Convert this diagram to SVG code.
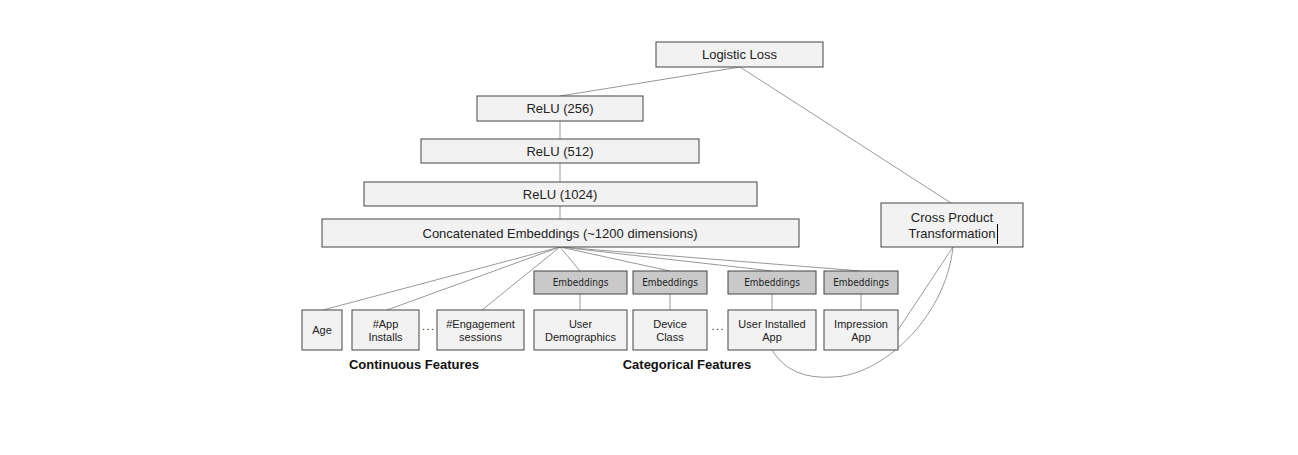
<svg xmlns="http://www.w3.org/2000/svg" width="1298" height="455" viewBox="0 0 1298 455">
<style>
.box{fill:#f2f2f2;stroke:#444;stroke-width:1}
.emb{fill:#c9c9c9;stroke:#444;stroke-width:1}
.t{font-family:"Liberation Sans",Arial,sans-serif;font-size:13px;fill:#222;text-anchor:middle}
.f{font-family:"Liberation Sans",Arial,sans-serif;font-size:11px;fill:#222;text-anchor:middle}
.e{font-family:"Liberation Sans Narrow","DejaVu Sans Condensed","Liberation Sans",sans-serif;font-size:10px;fill:#222;text-anchor:middle}
.b{font-family:"Liberation Sans",Arial,sans-serif;font-size:13px;font-weight:bold;fill:#111;text-anchor:middle}
.d{font-family:"Liberation Sans",Arial,sans-serif;font-size:11px;fill:#222;letter-spacing:1.5px}
.c{stroke:#999;stroke-width:1;fill:none}
</style>
<rect width="1298" height="455" fill="#fff"/>
<g id="connectors">
<line class="c" x1="740" y1="67" x2="560" y2="96"/>
<line class="c" x1="740" y1="67" x2="951" y2="203"/>
<line class="c" x1="560" y1="121" x2="560" y2="139"/>
<line class="c" x1="560" y1="163" x2="560" y2="182"/>
<line class="c" x1="560" y1="206" x2="560" y2="219"/>
<line class="c" x1="560" y1="247" x2="323" y2="310"/>
<line class="c" x1="560" y1="247" x2="387" y2="310"/>
<line class="c" x1="560" y1="247" x2="482" y2="310"/>
<line class="c" x1="560" y1="247" x2="580" y2="271"/>
<line class="c" x1="560" y1="247" x2="670" y2="271"/>
<line class="c" x1="560" y1="247" x2="772" y2="271"/>
<line class="c" x1="560" y1="247" x2="861" y2="271"/>
<line class="c" x1="580" y1="294" x2="580" y2="310"/>
<line class="c" x1="670" y1="294" x2="670" y2="310"/>
<line class="c" x1="772" y1="294" x2="772" y2="310"/>
<line class="c" x1="861" y1="294" x2="861" y2="310"/>
<line class="c" x1="953" y1="247" x2="898" y2="330"/>
<path class="c" d="M772 350 Q790 380 833 377 C880 376 945 320 953 247"/>
</g>
<g id="logistic-loss"><rect class="box" x="656" y="42" width="167" height="25"/><text class="t" x="739.5" y="59">Logistic Loss</text></g>
<g id="relu256"><rect class="box" x="477" y="96" width="166" height="25"/><text class="t" x="560" y="113">ReLU (256)</text></g>
<g id="relu512"><rect class="box" x="421" y="139" width="278" height="24"/><text class="t" x="560" y="156">ReLU (512)</text></g>
<g id="relu1024"><rect class="box" x="364" y="182" width="393" height="24"/><text class="t" x="560" y="199">ReLU (1024)</text></g>
<g id="concat"><rect class="box" x="322" y="219" width="477" height="28"/><text class="t" x="560" y="238">Concatenated Embeddings (~1200 dimensions)</text></g>
<g id="cross-product"><rect class="box" x="881" y="203" width="142" height="44"/><text class="t" x="952" y="221.5">Cross Product</text><text class="t" x="952" y="237.5">Transformation</text><line x1="997.5" y1="224" x2="997.5" y2="244" stroke="#000" stroke-width="1"/></g>
<g id="age"><rect class="box" x="302" y="310" width="40" height="40"/><text class="f" x="322" y="334">Age</text></g>
<g id="app-installs"><rect class="box" x="352" y="310" width="67" height="40"/><text class="f" x="385.5" y="328">#App</text><text class="f" x="385.5" y="341">Installs</text></g>
<g id="engagement"><rect class="box" x="437" y="310" width="87" height="40"/><text class="f" x="480.5" y="328">#Engagement</text><text class="f" x="480.5" y="341">sessions</text></g>
<g id="emb1"><rect class="emb" x="534" y="271" width="93" height="23"/><text class="e" x="580.5" y="286">Embeddings</text></g>
<g id="emb2"><rect class="emb" x="633" y="271" width="74" height="23"/><text class="e" x="670" y="286">Embeddings</text></g>
<g id="emb3"><rect class="emb" x="728" y="271" width="88" height="23"/><text class="e" x="772" y="286">Embeddings</text></g>
<g id="emb4"><rect class="emb" x="824" y="271" width="74" height="23"/><text class="e" x="861" y="286">Embeddings</text></g>
<g id="user-demographics"><rect class="box" x="534" y="310" width="93" height="40"/><text class="f" x="580.5" y="328">User</text><text class="f" x="580.5" y="341">Demographics</text></g>
<g id="device-class"><rect class="box" x="633" y="310" width="74" height="40"/><text class="f" x="670" y="328">Device</text><text class="f" x="670" y="341">Class</text></g>
<g id="user-installed-app"><rect class="box" x="728" y="310" width="88" height="40"/><text class="f" x="772" y="328">User Installed</text><text class="f" x="772" y="341">App</text></g>
<g id="impression-app"><rect class="box" x="824" y="310" width="74" height="40"/><text class="f" x="861" y="328">Impression</text><text class="f" x="861" y="341">App</text></g>
<g id="dots"><text class="d" x="422" y="330">...</text><text class="d" x="711.5" y="330">...</text></g>
<g id="labels"><text class="b" x="414" y="369">Continuous Features</text><text class="b" x="687" y="369">Categorical Features</text></g>
</svg>
